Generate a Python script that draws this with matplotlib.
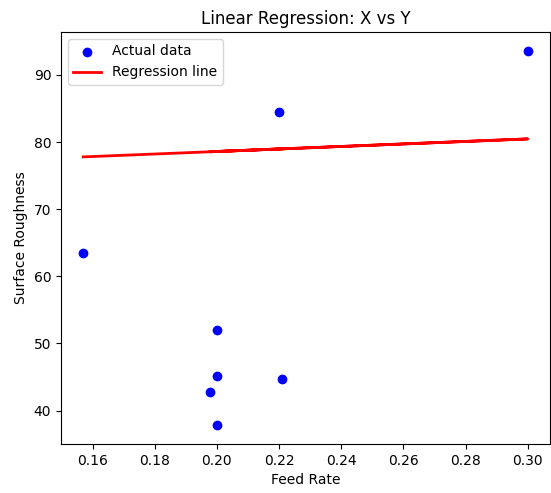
import numpy as np
import matplotlib
matplotlib.use('Agg')
import matplotlib.pyplot as plt

# values
feed_rate = [0.157, 0.220, 0.300, 0.200, 0.200, 0.1977, 0.200, 0.221]
roughness = [63.5, 84.5, 93.6, 51.95, 45.2, 42.7, 37.8, 44.65]

# fitted line shown in the reference
slope = 18.74
intercept = 74.84

X = np.array(feed_rate)
y_pred = intercept + slope * X

fig = plt.figure(figsize=(5.51, 4.93), dpi=100)
ax = fig.add_axes([0.1107, 0.0994, 0.8875, 0.8357])

ax.scatter(X, roughness, color='blue', label='Actual data')
ax.plot(X, y_pred, color='red', linewidth=2, label='Regression line')

ax.set_title('Linear Regression: X vs Y')
ax.set_xlabel('Feed Rate')
ax.set_ylabel('Surface Roughness')
ax.legend(loc='upper left')

fig.savefig('out.png', dpi=100)
